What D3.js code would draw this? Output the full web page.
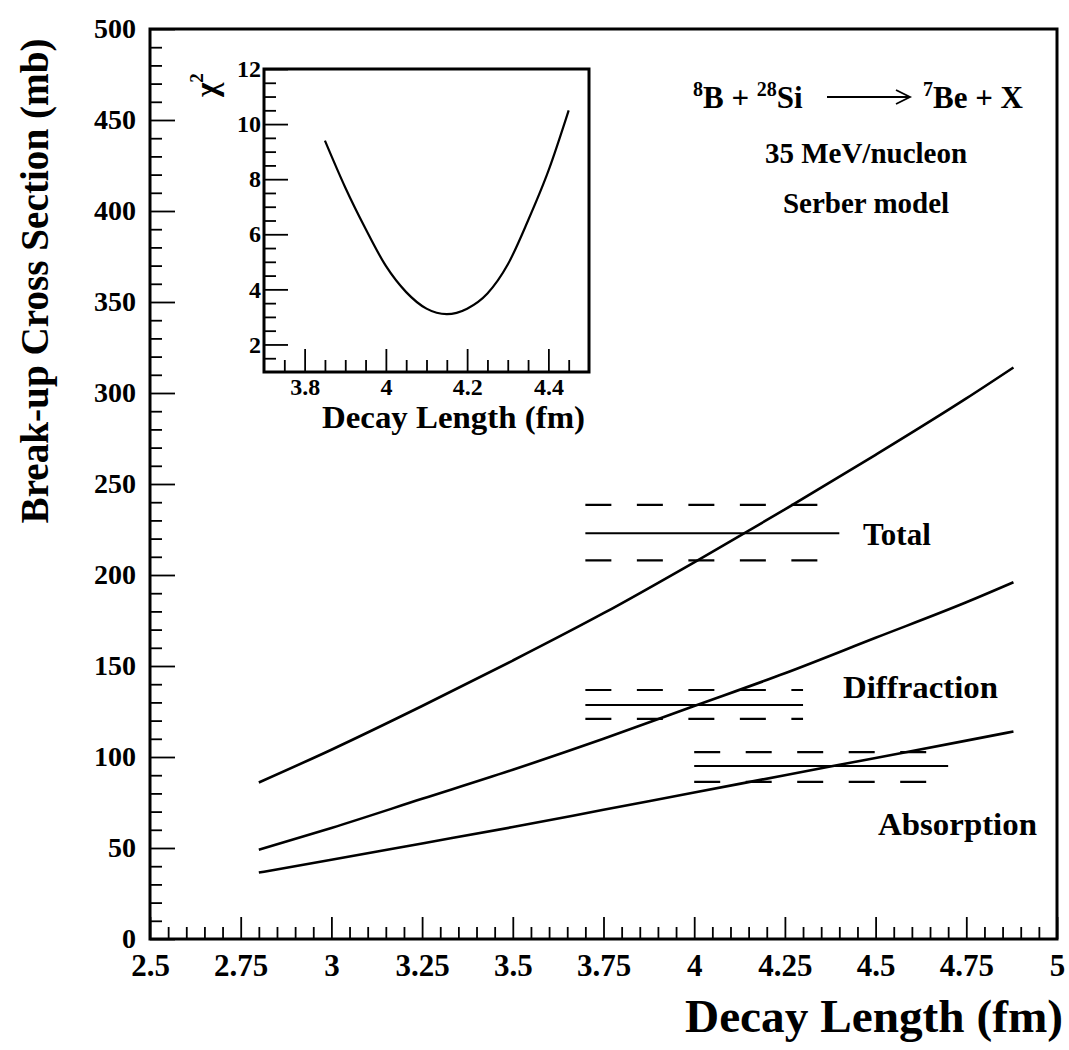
<!DOCTYPE html>
<html lang="en">
<head>
<meta charset="utf-8">
<title>8B + 28Si break-up cross section</title>
<script src="https://d3js.org/d3.v7.min.js"></script>
<style>
body { margin: 0; background: #fff; }
text { font-family: "Liberation Serif", "Times New Roman", serif; font-weight: bold; fill: #000; }
</style>
</head>
<body>
<script>
// decay length (fm) at which the model curves were read
var decayLength = [2.8, 3.0, 3.25, 3.5, 3.75, 4.0, 4.25, 4.5, 4.75, 4.88];
var totalXs = [86, 104, 128, 153, 179, 207, 236, 266, 297, 314];
var diffractionXs = [49, 61, 77, 93, 110, 128, 146, 165.5, 185, 196];
var absorptionXs = [36.5, 43.5, 52.5, 61.5, 71, 80.5, 90, 99.5, 109, 114];

// measured cross sections with error bands (mb), drawn over a range of decay length
var measNames = ["Total", "Diffraction", "Absorption"];
var measFrom = [3.7, 3.7, 4.0];
var measTo = [4.4, 4.3, 4.7];
var measValue = [223, 128.6, 95];
var measLow = [208, 121, 86.3];
var measHigh = [238.5, 136.8, 102.7];

// inset: chi^2 vs decay length
var chiX = [3.85, 3.9, 3.95, 4.0, 4.05, 4.1, 4.15, 4.2, 4.25, 4.3, 4.35, 4.4, 4.45];
var chiY = [9.4, 7.7, 6.2, 4.85, 3.9, 3.3, 3.1, 3.3, 3.85, 4.9, 6.5, 8.3, 10.5];

// tick labels
var xTicks = [2.5, 2.75, 3, 3.25, 3.5, 3.75, 4, 4.25, 4.5, 4.75, 5];
var yTicks = [0, 50, 100, 150, 200, 250, 300, 350, 400, 450, 500];
var insetXTicks = [3.8, 4, 4.2, 4.4];
var insetYTicks = [2, 4, 6, 8, 10, 12];

var W = 1069, H = 1050;
var svg = d3.select("body").append("svg")
	.attr("width", W)
	.attr("height", H);

var x = d3.scaleLinear().domain([2.5, 5]).range([150, 1057]);
var y = d3.scaleLinear().domain([0, 500]).range([939, 29]);

var fmt = d3.format("~g");

// minor ticks of main frame
var xMinor = d3.range(2.55, 5, 0.05).filter(function(v){ return Math.abs(v*4 - Math.round(v*4)) > 1e-6; });
var yMinor = d3.range(10, 500, 10).filter(function(v){ return v % 50 != 0; });

function cleanAxis(g, size) {
	g.select(".domain").remove();
	g.attr("font-size", size);
	g.selectAll(".tick line").attr("stroke", "#000").attr("stroke-width", 1.8);
}

// x axis
svg.append("g")
	.attr("transform", "translate(0," + y(0) + ")")
	.call(d3.axisBottom(x).tickValues(xMinor).tickSize(-12).tickFormat(""))
	.call(cleanAxis, 31);
svg.append("g")
	.attr("transform", "translate(0," + y(0) + ")")
	.call(d3.axisBottom(x).tickValues(xTicks).tickSize(-22).tickPadding(15).tickFormat(fmt))
	.call(cleanAxis, 31);

// y axis
svg.append("g")
	.attr("transform", "translate(" + x(2.5) + ",0)")
	.call(d3.axisLeft(y).tickValues(yMinor).tickSize(-12).tickFormat(""))
	.call(cleanAxis, 28);
svg.append("g")
	.attr("transform", "translate(" + x(2.5) + ",0)")
	.call(d3.axisLeft(y).tickValues(yTicks).tickSize(-25).tickPadding(14).tickFormat(fmt))
	.call(cleanAxis, 28);

// frame
svg.append("rect")
	.attr("x", x(2.5)).attr("y", y(500))
	.attr("width", x(5) - x(2.5)).attr("height", y(0) - y(500))
	.attr("fill", "none").attr("stroke", "#000").attr("stroke-width", 3);

// model curves
var line = d3.line()
	.x(function(d){ return x(d[0]); })
	.y(function(d){ return y(d[1]); })
	.curve(d3.curveMonotoneX);

[totalXs, diffractionXs, absorptionXs].forEach(function(s){
	svg.append("path")
		.datum(d3.zip(decayLength, s))
		.attr("d", line)
		.attr("fill", "none")
		.attr("stroke", "#000")
		.attr("stroke-width", 2.6);
});

// measured values: solid line with dashed error band
measNames.forEach(function(n, i){
	var g = svg.append("g");
	g.append("line")
		.attr("x1", x(measFrom[i])).attr("x2", x(measTo[i]))
		.attr("y1", y(measValue[i])).attr("y2", y(measValue[i]))
		.attr("stroke", "#000").attr("stroke-width", 2);
	[measLow[i], measHigh[i]].forEach(function(v){
		g.append("line")
			.attr("x1", x(measFrom[i])).attr("x2", x(measTo[i]))
			.attr("y1", y(v)).attr("y2", y(v))
			.attr("stroke", "#000").attr("stroke-width", 2.2)
			.attr("stroke-dasharray", "26,25.5");
	});
});

// labels of the curves
svg.append("text").attr("x", 863).attr("y", 545).attr("font-size", 31).text("Total");
svg.append("text").attr("x", 843).attr("y", 698).attr("font-size", 31)
	.attr("textLength", 155).attr("lengthAdjust", "spacingAndGlyphs").text("Diffraction");
svg.append("text").attr("x", 878).attr("y", 835).attr("font-size", 31)
	.attr("textLength", 159).attr("lengthAdjust", "spacingAndGlyphs").text("Absorption");

// axis titles
svg.append("text")
	.attr("x", 1063).attr("y", 1032)
	.attr("text-anchor", "end")
	.attr("font-size", 46)
	.attr("textLength", 378).attr("lengthAdjust", "spacingAndGlyphs")
	.text("Decay Length  (fm)");

svg.append("text")
	.attr("transform", "translate(48,281) rotate(-90)")
	.attr("text-anchor", "middle")
	.attr("font-size", 41)
	.attr("textLength", 485).attr("lengthAdjust", "spacingAndGlyphs")
	.text("Break-up Cross Section (mb)");

// reaction text, top right
var r1 = svg.append("text").attr("x", 693).attr("y", 108).attr("font-size", 31);
r1.append("tspan").attr("font-size", 20).attr("dy", -12).text("8");
r1.append("tspan").attr("dy", 12).text("B + ");
r1.append("tspan").attr("font-size", 20).attr("dy", -12).text("28");
r1.append("tspan").attr("dy", 12).text("Si");

svg.append("line")
	.attr("x1", 827).attr("x2", 909).attr("y1", 97).attr("y2", 97)
	.attr("stroke", "#000").attr("stroke-width", 1.8);
svg.append("path")
	.attr("d", "M896,90L910,97L896,104")
	.attr("fill", "none").attr("stroke", "#000").attr("stroke-width", 1.8);

var r2 = svg.append("text").attr("x", 1023).attr("y", 108).attr("font-size", 31).attr("text-anchor", "end");
r2.append("tspan").attr("font-size", 20).attr("dy", -12).text("7");
r2.append("tspan").attr("dy", 12).text("Be + X");

svg.append("text").attr("x", 866).attr("y", 163).attr("font-size", 29)
	.attr("text-anchor", "middle").text("35 MeV/nucleon");
svg.append("text").attr("x", 866).attr("y", 213).attr("font-size", 29)
	.attr("text-anchor", "middle").text("Serber model");

// ---------------- inset ----------------
var ix = d3.scaleLinear().domain([3.7, 4.5]).range([264, 589]);
var iy = d3.scaleLinear().domain([1, 12]).range([372, 69]);

var ixMinor = d3.range(3.75, 4.5, 0.05).filter(function(v){ return Math.abs(v*5 - Math.round(v*5)) > 1e-6; });
var iyMinor = d3.range(1.5, 12, 0.5).filter(function(v){ return v % 2 != 0; });

svg.append("g")
	.attr("transform", "translate(0," + iy(1) + ")")
	.call(d3.axisBottom(ix).tickValues(ixMinor).tickSize(-12).tickFormat(""))
	.call(cleanAxis, 24);
svg.append("g")
	.attr("transform", "translate(0," + iy(1) + ")")
	.call(d3.axisBottom(ix).tickValues(insetXTicks).tickSize(-23).tickPadding(6).tickFormat(fmt))
	.call(cleanAxis, 24);
svg.append("g")
	.attr("transform", "translate(" + ix(3.7) + ",0)")
	.call(d3.axisLeft(iy).tickValues(iyMinor).tickSize(-12).tickFormat(""))
	.call(cleanAxis, 24);
svg.append("g")
	.attr("transform", "translate(" + ix(3.7) + ",0)")
	.call(d3.axisLeft(iy).tickValues(insetYTicks).tickSize(-24).tickPadding(3).tickFormat(fmt))
	.call(cleanAxis, 24);

svg.append("rect")
	.attr("x", ix(3.7)).attr("y", iy(12))
	.attr("width", ix(4.5) - ix(3.7)).attr("height", iy(1) - iy(12))
	.attr("fill", "none")
	.attr("stroke", "#000").attr("stroke-width", 3);

var chiLine = d3.line()
	.x(function(d){ return ix(d[0]); })
	.y(function(d){ return iy(d[1]); })
	.curve(d3.curveMonotoneX);
svg.append("path")
	.datum(d3.zip(chiX, chiY))
	.attr("d", chiLine)
	.attr("fill", "none")
	.attr("stroke", "#000")
	.attr("stroke-width", 2.2);

var chi = svg.append("text")
	.attr("transform", "translate(217,97) rotate(-90)")
	.attr("font-size", 31);
chi.append("tspan").text("χ");
chi.append("tspan").attr("font-size", 19).attr("dy", -14).text("2");

svg.append("text")
	.attr("x", 585).attr("y", 428)
	.attr("text-anchor", "end")
	.attr("font-size", 31)
	.attr("textLength", 263).attr("lengthAdjust", "spacingAndGlyphs")
	.text("Decay Length (fm)");
</script>
</body>
</html>
